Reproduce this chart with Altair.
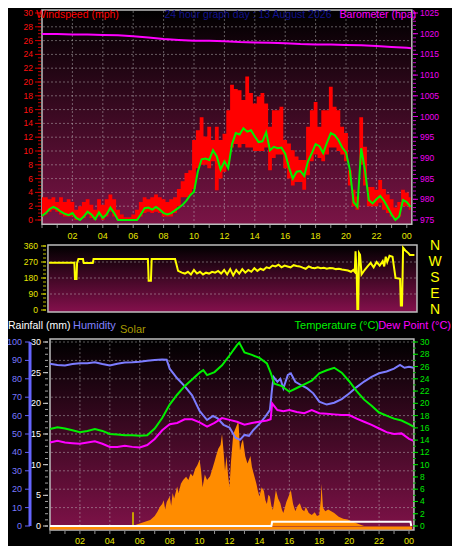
import altair as alt
import pandas as pd

OFF = 8            # page margin: chart px = reference px - OFF
FONT = "Liberation Sans"

# ---------------- axis labels / ticks ----------------
HOUR_TICKS = [2, 4, 6, 8, 10, 12, 14, 16, 18, 20, 22, 24]
HOUR_LABELS = ["02", "04", "06", "08", "10", "12", "14", "16", "18", "20", "22", "00"]
HOUR_MINOR = list(range(0, 25))
WIND_TICKS = list(range(0, 31, 2))
BARO_TICKS = list(range(975, 1026, 5))
DIR_TICKS = [0, 90, 180, 270, 360]
COMPASS_DEG = [360, 270, 180, 90, 0]
COMPASS_TXT = ["N", "W", "S", "E", "N"]
HUM_TICKS = list(range(0, 101, 10))
RAIN_TICKS = list(range(0, 31, 5))
TEMP_TICKS = list(range(0, 31, 2))

# ---------------- wind (mph) ----------------
WIND_H = [0.0, 0.25, 0.5, 0.75, 1.0, 1.25, 1.5, 1.75,
          2.0, 2.25, 2.5, 2.75, 3.0, 3.25, 3.5, 3.75,
          4.0, 4.25, 4.5, 4.75, 5.0, 5.25, 5.5, 5.75,
          6.0, 6.25, 6.5, 6.75, 7.0, 7.25, 7.5, 7.75,
          8.0, 8.25, 8.5, 8.75, 9.0, 9.25, 9.5, 9.75,
          10.0, 10.25, 10.5, 10.75, 11.0, 11.25, 11.5, 11.75,
          12.0, 12.25, 12.5, 12.75, 13.0, 13.25, 13.5, 13.75,
          14.0, 14.25, 14.5, 14.75, 15.0, 15.25, 15.5, 15.75,
          16.0, 16.25, 16.5, 16.75, 17.0, 17.25, 17.5, 17.75,
          18.0, 18.25, 18.5, 18.75, 19.0, 19.25, 19.5, 19.75,
          20.0, 20.25, 20.5, 20.75, 21.0, 21.25, 21.5, 21.75,
          22.0, 22.25, 22.5, 22.75, 23.0, 23.25, 23.5, 23.75,
          24.0, 24.25]
WIND_AVG = [0.6, 1.0, 1.6, 1.9, 1.6, 1.2, 0.9, 0.7,
            1.0, 0.3, 0.0, 0.5, 1.2, 0.8, 0.1, 1.1,
            0.3, 0.8, 1.8, 1.0, 0.0, 0.0, 0.0, 0.0,
            0.0, 0.0, 0.8, 1.7, 1.8, 1.5, 1.9, 1.5,
            1.0, 0.8, 1.0, 1.4, 1.8, 2.2, 2.8, 3.6,
            4.1, 7.0, 8.8, 8.9, 8.7, 10.1, 9.2, 7.3,
            8.5, 7.5, 11.0, 12.6, 12.4, 13.3, 12.8, 13.0,
            12.1, 11.3, 11.4, 12.7, 10.1, 10.6, 10.4, 10.5,
            9.6, 7.6, 6.0, 7.0, 7.1, 6.4, 8.5, 9.7,
            11.0, 10.7, 9.7, 11.2, 12.6, 12.3, 11.6, 10.5,
            9.8, 7.3, 2.6, 1.9, 10.4, 7.2, 2.9, 2.4,
            3.0, 3.5, 2.8, 1.8, 0.8, 0.0, 0.5, 2.9,
            2.6, 1.9]
WIND_HI = [3.3, 3.3, 3.0, 3.3, 2.6, 3.3, 2.6, 3.0,
           2.6, 1.5, 2.0, 2.6, 3.0, 2.2, 1.5, 3.0,
           2.2, 3.0, 3.7, 3.0, 1.5, 0.8, 0.4, 0.4,
           0.8, 1.5, 2.6, 3.3, 3.0, 3.3, 3.7, 3.3,
           3.0, 2.6, 3.0, 3.3, 4.5, 5.6, 6.8, 7.2,
           11.6, 13.0, 14.9, 12.1, 13.5, 11.6, 13.5, 11.6,
           12.5, 15.9, 19.6, 19.0, 18.8, 17.4, 20.8, 18.4,
           16.9, 17.9, 18.4, 16.9, 13.5, 15.9, 15.9, 16.4,
           11.6, 11.1, 10.1, 9.2, 8.7, 8.7, 13.5, 15.9,
           17.1, 13.5, 15.9, 15.9, 19.3, 16.4, 15.9, 13.5,
           12.6, 7.2, 4.4, 3.4, 14.9, 10.6, 4.8, 4.8,
           4.4, 5.8, 4.5, 3.7, 3.0, 1.8, 2.6, 4.4,
           4.0, 3.3]
WIND_LO = [0.5, 0.8, 1.2, 1.5, 1.2, 0.8, 0.5, 0.5,
           0.5, 0.0, 0.0, 0.3, 0.8, 0.3, 0.0, 0.5,
           0.0, 0.5, 1.2, 0.5, 0.0, 0.0, 0.0, 0.0,
           0.0, 0.0, 0.5, 1.0, 1.2, 1.0, 1.2, 1.0,
           0.5, 0.5, 0.5, 1.0, 2.0, 3.3, 3.3, 3.6,
           4.5, 7.5, 8.0, 8.0, 7.5, 8.5, 4.3, 6.0,
           7.0, 8.0, 10.5, 11.0, 10.5, 11.0, 10.5, 10.5,
           10.0, 10.0, 10.0, 10.5, 7.2, 9.0, 9.5, 9.5,
           7.5, 6.0, 5.0, 5.5, 5.5, 4.4, 6.5, 8.5,
           9.5, 9.0, 8.5, 9.5, 10.5, 10.5, 10.0, 9.5,
           8.5, 5.0, 2.0, 1.5, 8.0, 5.0, 2.0, 2.0,
           2.0, 2.5, 1.5, 1.0, 0.5, 0.0, 0.5, 2.0,
           2.0, 1.5]

# ---------------- barometer (hPa) ----------------
BARO_H = [0, 1, 2, 3, 4, 5, 6, 7, 8, 9, 10, 11, 12, 13, 14, 15, 16, 17, 18,
          19, 20, 21, 22, 23, 24, 24.3]
BARO_HPA = [1019.9, 1019.9, 1019.8, 1019.8, 1019.7, 1019.6, 1019.4, 1019.1,
            1018.7, 1018.5, 1018.3, 1018.3, 1018.2, 1018.0, 1017.9, 1017.8,
            1017.7, 1017.5, 1017.4, 1017.4, 1017.3, 1017.2, 1017.0, 1016.8,
            1016.6, 1016.5]

# ---------------- wind direction (deg) ----------------
DIR_H = [0, 1.68, 1.72, 1.82, 1.86, 1.95, 2.25, 2.3, 2.9, 2.95,
         6.55, 6.6, 6.75, 6.8, 8.35, 8.55, 8.8,
         9.0, 9.2, 9.4, 9.6, 9.8, 10.0, 10.2, 10.4, 10.6, 10.8,
         11.0, 11.2, 11.4, 11.6, 11.8, 12.0, 12.2, 12.4, 12.6, 12.8,
         13.0, 13.2, 13.4, 13.6, 13.8, 14.0, 14.2, 14.4, 14.6, 14.8,
         15.0, 15.2, 15.4, 15.6, 15.8, 16.0, 16.2, 16.4, 16.6, 16.8,
         17.0, 17.2, 17.4, 17.6, 17.8, 18.0, 18.2, 18.4, 18.6, 18.8,
         19.0, 19.2, 19.4, 19.6, 19.8, 20.0,
         20.15, 20.25, 20.3, 20.38, 20.42, 20.48, 20.53, 20.6, 20.7, 20.9,
         21.1, 21.3, 21.5, 21.7, 21.9, 22.1, 22.2, 22.3, 22.4, 22.55, 22.75, 22.85, 22.95,
         23.25, 23.3, 23.38, 23.45, 23.6, 23.8, 23.9, 24.2]
DIR_DEG = [266, 266, 175, 175, 266, 287, 287, 264, 264, 287,
           287, 165, 165, 287, 287, 220, 210,
           205, 215, 200, 225, 205, 215, 200, 210, 205, 215,
           210, 220, 205, 225, 200, 230, 195, 225, 205, 230,
           210, 225, 215, 235, 220, 232, 225, 240, 235, 250,
           245, 255, 240, 250, 245, 240, 252, 248, 245, 238,
           232, 245, 238, 235, 240, 235, 238, 232, 236, 235,
           230, 232, 228, 225, 222, 215,
           225, 215, 330, 200, 5, 5, 320, 310, 200, 225,
           245, 265, 240, 270, 250, 275, 245, 300, 270, 305, 300, 240, 180,
           175, 25, 25, 350, 335, 320, 310, 310]

# ---------------- temperature / dew point (°C) ----------------
TEMP_H = [0, 0.5, 1, 1.5, 2, 2.5, 3, 3.5, 4, 4.5, 5, 5.5, 6, 6.5, 7, 7.5, 8, 8.5,
          9, 9.5, 10, 10.25, 10.5, 11, 11.5, 12, 12.5, 12.65, 13, 13.5, 14, 14.5,
          14.75, 15, 15.5, 16, 16.5, 17, 17.5, 18, 18.5, 19, 19.5, 20, 20.5, 21,
          21.5, 22, 22.5, 23, 23.5, 24, 24.3]
TEMP_C = [15.8, 16.1, 15.9, 15.6, 15.3, 15.5, 15.8, 15.5, 15.0, 14.9,
          14.8, 14.8, 14.7, 14.8, 15.9, 17.6, 19.8, 21.4, 22.8, 23.9,
          25.0, 25.4, 24.6, 25.1, 26.2, 27.8, 29.5, 29.9, 28.3, 27.9,
          27.4, 26.5, 25.0, 23.2, 22.8, 21.9, 22.5, 23.1, 23.7, 24.9,
          25.4, 25.8, 25.0, 23.6, 22.0, 20.6, 19.6, 18.5, 18.0, 17.5,
          17.2, 16.6, 16.2]
DEW_H = [0, 0.5, 1, 1.5, 2, 2.5, 3, 3.5, 4, 4.5, 5, 5.5, 6, 6.5, 7, 7.5, 8, 8.5,
         9, 9.5, 10, 10.5, 11, 11.5, 12, 12.5, 13, 13.5, 14, 14.5,
         14.75, 14.85, 15.2, 15.6, 16, 16.5, 17, 17.5, 18, 18.5, 19, 19.5,
         20, 20.5, 21, 21.5, 22, 22.5, 23, 23.5, 24, 24.3]
DEW_C = [13.6, 13.9, 13.6, 13.5, 13.4, 13.6, 13.8, 13.4, 12.9, 12.9,
         13.1, 12.9, 12.8, 13.2, 14.2, 15.6, 16.6, 16.8, 17.4, 17.4,
         16.9, 16.2, 16.8, 17.6, 17.3, 17.0, 16.5, 16.8, 17.0, 17.2,
         17.4, 20.0, 18.9, 18.7, 18.9, 18.6, 18.4, 18.9, 18.4, 18.3,
         18.2, 18.1, 18.1, 17.5, 17.0, 16.5, 15.9, 15.3, 15.0, 15.1,
         14.2, 13.9]

# ---------------- humidity (%) ----------------
HUM_H = [0, 0.5, 1, 1.5, 2, 2.5, 3, 3.5, 4, 4.5, 5, 5.5, 6, 6.5, 7, 7.5, 7.8,
         8, 8.5, 9, 9.5, 10, 10.5, 10.9, 11.2, 11.6, 12, 12.4, 12.7, 13, 13.3,
         13.6, 14, 14.4, 14.7, 14.85, 14.95, 15.2, 15.4, 15.6, 15.9, 16.1, 16.4,
         16.8, 17.2, 17.6, 18, 18.5, 19, 19.5, 20, 20.5, 21, 21.5, 22, 22.5, 23,
         23.4, 23.7, 24, 24.3]
HUM_V = [88.2, 87.5, 87.2, 88.0, 88.4, 88.4, 89.0, 88.0, 87.2, 88.2,
         88.8, 89.0, 89.3, 89.8, 90.2, 90.5, 90.4,
         85.5, 80.3, 76.0, 71.0, 62.5, 57.6,
         59.8, 58.5, 55.0, 53.5, 48.0, 46.8, 49.5, 49.0, 52.2, 55.5, 59.5, 63.0,
         75.0, 81.0, 78.4, 80.0, 74.8, 82.1, 83.0, 78.4, 76.5, 74.8, 72.1, 67.6,
         66.0, 67.0, 69.0, 72.0, 75.5, 78.5, 81.0, 83.0, 84.0, 85.5,
         87.5, 86.0, 86.5, 86.0]

# ---------------- solar (relative, drawn on the humidity scale) ----------------
SOLAR_H = [0, 5.5, 6.0, 6.4, 6.7, 7.0, 7.2, 7.35, 7.5, 7.6,
           7.7, 7.8, 8.0, 8.1, 8.2, 8.3, 8.5, 8.6, 8.75, 8.9,
           9.1, 9.25, 9.4, 9.55, 9.7, 9.85, 10.0, 10.1, 10.2, 10.35,
           10.5, 10.7, 10.85, 11.0, 11.1, 11.25, 11.4, 11.5, 11.6, 11.7,
           11.8, 11.9, 12.0, 12.1, 12.25, 12.4, 12.5, 12.6, 12.7, 12.8,
           12.9, 13.05, 13.2, 13.4, 13.5, 13.6, 13.7, 13.8, 13.9, 14.0,
           14.15, 14.3, 14.4, 14.5, 14.6, 14.7, 14.8, 14.9, 15.0, 15.1,
           15.25, 15.4, 15.5, 15.6, 15.8, 15.95, 16.1, 16.25, 16.4, 16.55,
           16.7, 16.85, 17.0, 17.1, 17.3, 17.5, 17.7, 17.85, 18.0, 18.1,
           18.15, 18.25, 18.4, 18.6, 18.8, 19.0, 19.3, 19.6, 19.9, 20.2,
           20.5, 20.8, 21.0, 24.3]
SOLAR_V = [0, 0, 1.4, 2.5, 3.3, 5.5, 8, 10.5, 12, 14,
           9, 13, 16, 11, 18, 15, 21.4, 18, 23, 25,
           26.8, 25, 28.6, 27, 31, 33, 36, 30, 21, 28,
           25, 27, 31, 35, 38, 42, 44, 50, 41, 30,
           38, 28, 21, 35, 50, 53, 55, 57, 41, 45,
           47, 38, 34, 38, 32, 29, 26, 23, 19, 16,
           21, 19, 14, 12, 17, 16, 11, 8.7, 14, 19.6,
           15, 12.4, 9, 7, 13, 16, 19.6, 12, 8, 11,
           12.4, 9, 8, 10.5, 7, 6, 7.5, 5.5, 6, 14,
           23, 10, 8, 9, 8, 7, 5, 4, 3.5, 2.5,
           1.5, 0.5, 0, 0]
SUNRISE_H = [5.55]
SUNRISE_V = [7.5]

# ---------------- rainfall (mm) ----------------
RAIN_H = [0, 14.8, 14.85, 24.1, 24.15]
RAIN_MM = [0, 0, 0.7, 0.7, 0]


# ---------------- scales (pixel ranges = layout) ----------------
def sc(domain, rng):
    return alt.Scale(domain=domain, range=[r - OFF for r in rng], nice=False, zero=False)


TOP_X = sc([0, 24], [42, 406.8])
MID_X = sc([0, 24], [49, 411.4])
BOT_X = sc([0, 24], [50, 409])
WIND_Y = sc([0, 30], [220, 13])
BARO_Y = sc([975, 1025], [220, 13])
DIR_Y = sc([0, 360], [310, 246])
HUM_Y = sc([0, 100], [526, 342])
TEMP_Y = sc([0, 30], [526, 342])
RAIN_Y = sc([0, 30], [526, 342])

L = []


def X(f, s):
    return alt.X(f"{f}:Q", scale=s, axis=None)


def Y(f, s):
    return alt.Y(f"{f}:Q", scale=s, axis=None)


def panel(xs, ys, x0, x1, y0, y1, bottom):
    df = pd.DataFrame({"x0": [x0], "x1": [x1], "y0": [y0], "y1": [y1]})
    grad = alt.Gradient(gradient="linear",
                        stops=[alt.GradientStop(color="#000000", offset=0),
                               alt.GradientStop(color=bottom, offset=1)],
                        x1=0, x2=0, y1=0, y2=1)
    return alt.Chart(df).mark_rect(fill=grad, stroke="#bdbdbd", strokeWidth=1.5).encode(
        x=X("x0", xs), x2="x1:Q", y=Y("y0", ys), y2="y1:Q")


def hgrid(vals, ys, xl, xr):
    df = pd.DataFrame({"v": vals})
    return alt.Chart(df).mark_rule(color="#c8c8c8", strokeDash=[2, 2], strokeWidth=1,
                                   opacity=0.45).encode(
        x=alt.value(xl - OFF), x2=alt.value(xr - OFF), y=Y("v", ys))


def vgrid(vals, xs, yt, yb):
    df = pd.DataFrame({"v": vals})
    return alt.Chart(df).mark_rule(color="#c8c8c8", strokeDash=[2, 2], strokeWidth=1,
                                   opacity=0.45).encode(
        x=X("v", xs), y=alt.value(yt - OFF), y2=alt.value(yb - OFF))


def yticks(vals, ys, xa, xb, color, w=1):
    df = pd.DataFrame({"v": vals})
    return alt.Chart(df).mark_rule(color=color, strokeWidth=w).encode(
        x=alt.value(xa - OFF), x2=alt.value(xb - OFF), y=Y("v", ys))


def xticks(vals, xs, ya, yb, color):
    df = pd.DataFrame({"v": vals})
    return alt.Chart(df).mark_rule(color=color, strokeWidth=1).encode(
        x=X("v", xs), y=alt.value(ya - OFF), y2=alt.value(yb - OFF))


def ylabels(vals, ys, xpx, color, align, size=8.5, texts=None):
    df = pd.DataFrame({"v": vals, "t": texts if texts else [str(v) for v in vals]})
    return alt.Chart(df).mark_text(align=align, baseline="middle", color=color,
                                   fontSize=size, font=FONT).encode(
        x=alt.value(xpx - OFF), y=Y("v", ys), text="t:N")


def xlabels(xs, ypx, color):
    df = pd.DataFrame({"v": HOUR_TICKS, "t": HOUR_LABELS})
    return alt.Chart(df).mark_text(align="center", baseline="middle", color=color,
                                   fontSize=9, font=FONT).encode(
        x=X("v", xs), y=alt.value(ypx - OFF), text="t:N")


def title(txt, x, y, color, align="left", size=11, baseline="middle"):
    df = pd.DataFrame({"t": [txt]})
    return alt.Chart(df).mark_text(align=align, baseline=baseline, color=color,
                                   fontSize=size, font=FONT).encode(
        x=alt.value(x), y=alt.value(y), text="t:N")


# ---------------- top panel: wind + barometer ----------------
L.append(panel(TOP_X, WIND_Y, 0, 24.33, -0.6, 30.45, "#7a1446"))
L.append(hgrid(list(range(2, 30, 2)), WIND_Y, 43, 411))
L.append(vgrid(HOUR_TICKS[:-1], TOP_X, 11, 223))
wind = pd.DataFrame({"h": WIND_H, "avg": WIND_AVG, "hi": WIND_HI, "lo": WIND_LO})
L.append(alt.Chart(wind).mark_area(interpolate="step", color="#ff0000").encode(
    x=X("h", TOP_X), y=Y("hi", WIND_Y), y2="lo:Q"))
L.append(alt.Chart(wind).mark_line(color="#00f000", strokeWidth=2).encode(
    x=X("h", TOP_X), y=Y("avg", WIND_Y)))
baro = pd.DataFrame({"h": BARO_H, "p": BARO_HPA})
L.append(alt.Chart(baro).mark_line(color="#ff00ff", strokeWidth=2).encode(
    x=X("h", TOP_X), y=Y("p", BARO_Y)))
L.append(yticks([v / 2 for v in range(0, 61)], WIND_Y, 38, 41, "#c00000"))
L.append(yticks(WIND_TICKS, WIND_Y, 35, 41, "#d00000"))
L.append(ylabels(WIND_TICKS, WIND_Y, 33, "#ff1010", "right"))
L.append(yticks(list(range(975, 1026)), BARO_Y, 413, 416, "#c000c0"))
L.append(yticks(BARO_TICKS, BARO_Y, 413, 418, "#e000e0"))
L.append(ylabels(BARO_TICKS, BARO_Y, 420, "#f000f0", "left"))
L.append(xticks(HOUR_MINOR, TOP_X, 225, 228, "#909090"))
L.append(xlabels(TOP_X, 236, "#e6e600"))

# ---------------- middle panel: wind direction ----------------
L.append(panel(MID_X, DIR_Y, -0.07, 24.37, -11, 365, "#84104c"))
L.append(hgrid([90, 180, 270], DIR_Y, 50, 416))
wdir = pd.DataFrame({"h": DIR_H, "d": DIR_DEG})
L.append(alt.Chart(wdir).mark_line(color="#ffff00", strokeWidth=2).encode(
    x=X("h", MID_X), y=Y("d", DIR_Y)))
L.append(yticks([v * 22.5 for v in range(0, 17)], DIR_Y, 43, 46, "#c0c000"))
L.append(yticks(DIR_TICKS, DIR_Y, 41, 46, "#d8d800"))
L.append(ylabels(DIR_TICKS, DIR_Y, 38, "#e6e600", "right"))
L.append(ylabels(COMPASS_DEG, DIR_Y, 435, "#ffff00", "center", size=14, texts=COMPASS_TXT))

# ---------------- bottom panel: humidity, temperature, dew point, solar, rain ----------------
L.append(panel(BOT_X, HUM_Y, 0, 24.33, -2.2, 101.6, "#7e1248"))
L.append(hgrid(list(range(10, 101, 10)), HUM_Y, 51, 413))
L.append(vgrid(HOUR_TICKS[:-1], BOT_X, 340, 529))
solar = pd.DataFrame({"h": SOLAR_H, "v": SOLAR_V})
L.append(alt.Chart(solar).mark_area(color="#ff8c00").encode(
    x=X("h", BOT_X), y=Y("v", HUM_Y)))
base = pd.DataFrame({"a": [0], "b": [24.2], "v": [0]})
L.append(alt.Chart(base).mark_rule(color="#ff8c00", strokeWidth=3, yOffset=2).encode(
    x=X("a", BOT_X), x2="b:Q", y=Y("v", HUM_Y)))
sun = pd.DataFrame({"h": SUNRISE_H, "v": SUNRISE_V, "z": [0]})
L.append(alt.Chart(sun).mark_rule(color="#c8a000", strokeWidth=2).encode(
    x=X("h", BOT_X), y=Y("z", HUM_Y), y2="v:Q"))
rain = pd.DataFrame({"h": RAIN_H, "r": RAIN_MM})
L.append(alt.Chart(rain).mark_line(color="#ffffff", strokeWidth=2).encode(
    x=X("h", BOT_X), y=Y("r", RAIN_Y)))
hum = pd.DataFrame({"h": HUM_H, "v": HUM_V})
L.append(alt.Chart(hum).mark_line(color="#7c7cff", strokeWidth=2).encode(
    x=X("h", BOT_X), y=Y("v", HUM_Y)))
dew = pd.DataFrame({"h": DEW_H, "c": DEW_C})
L.append(alt.Chart(dew).mark_line(color="#ff00ff", strokeWidth=2).encode(
    x=X("h", BOT_X), y=Y("c", TEMP_Y)))
temp = pd.DataFrame({"h": TEMP_H, "c": TEMP_C})
L.append(alt.Chart(temp).mark_line(color="#00f000", strokeWidth=2).encode(
    x=X("h", BOT_X), y=Y("c", TEMP_Y)))

# left axes: humidity (blue) and rainfall (white)
haxis = pd.DataFrame({"a": [0], "b": [100]})
L.append(alt.Chart(haxis).mark_rule(color="#6464ff", strokeWidth=3).encode(
    x=alt.value(30 - OFF), y=Y("a", HUM_Y), y2="b:Q"))
L.append(yticks(HUM_TICKS, HUM_Y, 25, 30, "#6464ff"))
L.append(ylabels(HUM_TICKS, HUM_Y, 22, "#7878ff", "right", size=9))
L.append(yticks(list(range(0, 31)), RAIN_Y, 45, 48, "#a0a0a0"))
L.append(yticks(RAIN_TICKS, RAIN_Y, 43, 48, "#d0d0d0"))
L.append(ylabels(RAIN_TICKS, RAIN_Y, 41, "#ffffff", "right", size=9))
# right axis: temperature
L.append(yticks(list(range(0, 31)), TEMP_Y, 413, 416, "#00b000"))
L.append(yticks(TEMP_TICKS, TEMP_Y, 413, 418, "#00e000"))
L.append(ylabels(TEMP_TICKS, TEMP_Y, 420, "#00e800", "left"))
L.append(xticks(HOUR_MINOR, BOT_X, 531, 534, "#909090"))
L.append(xlabels(BOT_X, 541, "#e6e600"))

# ---------------- titles ----------------
L.append(title("Windspeed (mph)", 28, 1.5, "#ff0000", size=10.5, baseline="top"))
L.append(title("24 hour graph day : 13 August 2026", 240, 1.5, "#12128e", align="center",
               size=10.5, baseline="top"))
L.append(title("Barometer (hpa)", 408, 1.5, "#ff00ff", align="right", size=10.5,
               baseline="top"))
L.append(title("Rainfall (mm)", 0, 318, "#ffffff", size=10.5))
L.append(title("Humidity", 65, 318, "#8080ff"))
L.append(title("Solar", 112, 322, "#a89a00"))
L.append(title("Dew Point (°C)", 443, 318, "#ff00ff", align="right"))
L.append(title("Temperature (°C)", 371, 318, "#00f000", align="right"))

chart = alt.layer(*L).resolve_scale(x="independent", y="independent").properties(
    width=444, height=538, padding=0,
    autosize=alt.AutoSizeParams(type="none"), background="#000000"
).configure_view(stroke=None)

chart.save("out.html", embed_options={"renderer": "svg", "actions": False})
